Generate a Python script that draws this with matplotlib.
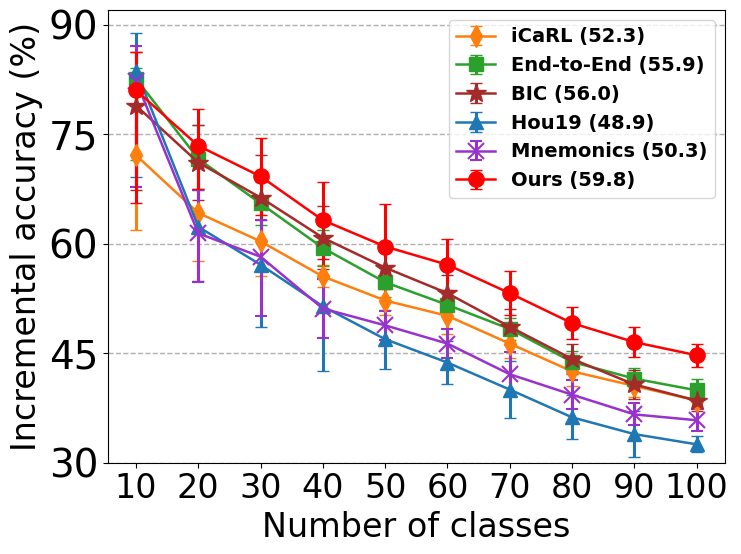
import matplotlib
matplotlib.use("Agg")
import matplotlib.pyplot as plt
import numpy as np

classes = [10, 20, 30, 40, 50, 60, 70, 80, 90, 100]

icarl = [72.1, 64.2, 60.3, 55.5, 52.2, 50.1, 46.3, 42.5, 40.5, 38.5]
icarl_lo = [10.3, 6.6, 4.7, 1.5, 2.0, 2.5, 2.0, 2.0, 1.5, 1.0]
icarl_hi = [10.3, 6.6, 4.7, 1.5, 2.0, 2.5, 2.0, 2.0, 1.5, 1.0]

e2e = [82.6, 71.6, 65.5, 59.4, 54.7, 51.6, 48.3, 43.8, 41.5, 39.9]
e2e_lo = [11.1, 4.1, 3.0, 2.5, 2.0, 1.5, 1.5, 1.5, 1.5, 1.5]
e2e_hi = [1.5, 4.6, 3.0, 2.5, 2.0, 1.5, 1.5, 1.5, 1.5, 1.5]

bic = [78.9, 71.1, 66.3, 60.8, 56.7, 53.2, 48.6, 44.2, 40.7, 38.5]
bic_lo = [11.5, 5.1, 5.9, 4.3, 2.5, 2.5, 2.5, 2.0, 2.0, 1.5]
bic_hi = [7.3, 5.1, 5.9, 4.3, 2.5, 2.5, 2.5, 2.0, 2.0, 1.5]

hou19 = [83.7, 62.3, 57.1, 51.4, 46.9, 43.7, 40.0, 36.2, 33.9, 32.5]
hou19_lo = [14.6, 7.4, 8.5, 8.8, 4.1, 2.9, 3.9, 3.0, 3.1, 1.1]
hou19_hi = [5.2, 5.0, 6.1, 4.0, 4.0, 2.9, 3.9, 3.0, 3.1, 1.1]

mnem = [82.3, 61.4, 58.2, 51.1, 48.8, 46.3, 42.1, 39.3, 36.6, 35.8]
mnem_lo = [14.6, 6.6, 8.1, 4.1, 2.0, 2.0, 3.0, 2.0, 1.5, 1.5]
mnem_hi = [4.8, 5.9, 5.0, 4.0, 2.0, 2.0, 3.0, 2.0, 1.5, 1.5]

ours = [81.0, 73.4, 69.2, 63.2, 59.6, 57.1, 53.2, 49.1, 46.5, 44.7]
ours_lo = [15.5, 5.9, 5.3, 5.3, 5.8, 3.5, 3.0, 2.2, 2.1, 1.6]
ours_hi = [5.2, 5.1, 5.3, 5.3, 5.8, 3.5, 3.0, 2.2, 2.1, 1.6]

labels = ["iCaRL (52.3)", "End-to-End (55.9)", "BIC (56.0)",
          "Hou19 (48.9)", "Mnemonics (50.3)", "Ours (59.8)"]

series = [
    (icarl, icarl_lo, icarl_hi, "tab:orange", "d", 11),
    (e2e, e2e_lo, e2e_hi, "tab:green", "s", 10),
    (bic, bic_lo, bic_hi, "brown", "*", 15),
    (hou19, hou19_lo, hou19_hi, "tab:blue", "^", 10),
    (mnem, mnem_lo, mnem_hi, "darkorchid", "x", 11),
    (ours, ours_lo, ours_hi, "red", "o", 11),
]

fig = plt.figure(figsize=(7.41, 5.54), dpi=100)
ax = fig.add_axes([0.1457, 0.165, 0.978 - 0.1457, 0.982 - 0.165])

for (vals, lo, hi, col, mk, ms), lab in zip(series, labels):
    mew = 1.5 if mk == "x" else 1.0
    ax.errorbar(classes, vals, yerr=[lo, hi], color=col, marker=mk,
                markersize=ms, linewidth=1.8, elinewidth=2.2, capsize=4,
                capthick=1.5, markeredgewidth=mew, label=lab)

ax.set_ylim(30, 92)
ax.set_yticks([30, 45, 60, 75, 90])
ax.set_xticks(classes)
ax.tick_params(axis="y", labelsize=28)
ax.tick_params(axis="x", labelsize=24)
ax.set_xlabel("Number of classes", fontsize=24)
ax.set_ylabel("Incremental accuracy (%)", fontsize=24)
ax.yaxis.grid(True, linestyle="--", color="#b0b0b0", linewidth=1)
ax.set_axisbelow(True)
ax.legend(loc="upper right", prop={"weight": "bold", "size": 14})

fig.savefig("out.png", dpi=100)
